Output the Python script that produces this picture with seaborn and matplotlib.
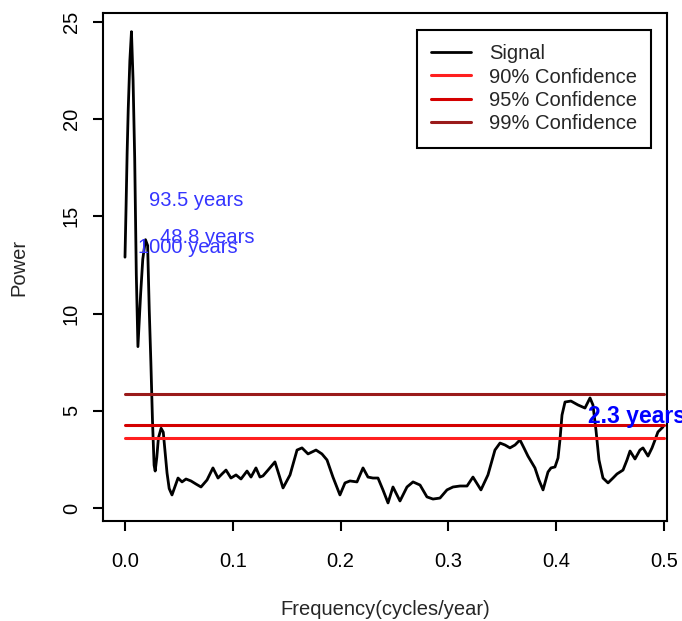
import matplotlib
matplotlib.use("Agg")
import numpy as np
import pandas as pd
import matplotlib.pyplot as plt
import seaborn as sns

# ── Spectrum values ────────────────────────────────────────────────────────
freq = [0.000, 0.001, 0.002, 0.003, 0.0045, 0.006, 0.0075, 0.009, 0.0105, 0.012,
        0.0145, 0.0165, 0.019, 0.021, 0.0225, 0.024, 0.0255, 0.027, 0.028, 0.0295,
        0.031, 0.0335, 0.0355, 0.037, 0.039, 0.041, 0.0436, 0.0492, 0.0529, 0.0566,
        0.0612, 0.0659, 0.0705, 0.0761, 0.0816, 0.0863, 0.0900, 0.0937, 0.0983, 0.1030,
        0.1076, 0.1132, 0.1169, 0.1215, 0.1252, 0.1280, 0.1327, 0.1391, 0.1429, 0.1466,
        0.1531, 0.1596, 0.1642, 0.1698, 0.1772, 0.1827, 0.1874, 0.1929, 0.1994, 0.2041,
        0.2087, 0.2152, 0.2208, 0.2254, 0.2300, 0.2347, 0.2393, 0.2440, 0.2486, 0.2551,
        0.2616, 0.2672, 0.2737, 0.2801, 0.2857, 0.2922, 0.2987, 0.3043, 0.3108, 0.3173,
        0.3228, 0.3302, 0.3367, 0.3432, 0.3479, 0.3525, 0.3571, 0.3618, 0.3664, 0.3701,
        0.3738, 0.3803, 0.3840, 0.3878, 0.3924, 0.3952, 0.3989, 0.4017, 0.4035, 0.4054,
        0.4082, 0.4137, 0.4202, 0.4267, 0.4314, 0.4341, 0.4369, 0.4397, 0.4434, 0.4481,
        0.4527, 0.4564, 0.4620, 0.4657, 0.4685, 0.4731, 0.4777, 0.4805, 0.4852, 0.4889,
        0.4917, 0.4944, 0.4991]
power = [12.9, 15.5, 18.3, 20.5, 23.0, 24.5, 22.0, 18.0, 12.0, 8.3,
         11.0, 12.8, 13.8, 13.5, 10.2, 7.5, 4.5, 2.2, 1.9, 2.6,
         3.6, 4.1, 3.9, 3.0, 1.8, 1.0, 0.67, 1.54, 1.34, 1.49,
         1.39, 1.23, 1.08, 1.44, 2.06, 1.54, 1.75, 1.95, 1.54, 1.70,
         1.49, 1.90, 1.59, 2.06, 1.59, 1.65, 1.95, 2.37, 1.70, 1.03,
         1.70, 2.98, 3.09, 2.78, 2.98, 2.78, 2.47, 1.59, 0.67, 1.29,
         1.39, 1.34, 2.06, 1.59, 1.54, 1.54, 0.93, 0.26, 1.08, 0.36,
         1.08, 1.34, 1.18, 0.57, 0.46, 0.51, 0.93, 1.08, 1.13, 1.13,
         1.59, 0.93, 1.70, 2.98, 3.34, 3.24, 3.09, 3.24, 3.50, 3.09,
         2.67, 2.06, 1.44, 0.93, 1.85, 2.06, 2.11, 2.57, 3.50, 4.78,
         5.45, 5.50, 5.30, 5.14, 5.66, 5.30, 4.01, 2.47, 1.54, 1.29,
         1.54, 1.75, 1.95, 2.47, 2.93, 2.52, 2.98, 3.09, 2.67, 3.09,
         3.50, 3.91, 4.17]

conf_labels = ["90% Confidence", "95% Confidence", "99% Confidence"]
conf_levels = [3.58, 4.27, 5.85]
conf_colors = ["#ff1f1f", "#d40000", "#9a1a1a"]

peak_labels = ["93.5 years", "48.8 years", "1000 years"]
peak_x = [0.0659, 0.0765, 0.0585]
peak_y = [15.8, 13.9, 13.4]
short_label = "2.3 years"
short_x, short_y = 0.475, 4.73

# ── Style ───────────────────────────────────────────────────────────────────
sns.set_style("ticks")
plt.rcParams['font.family'] = ['Liberation Sans', 'DejaVu Sans']
FS = 14.5

fig = plt.figure(figsize=(6.82, 6.21), dpi=100)
ax = fig.add_axes([103 / 682, 100 / 621, 564 / 682, 508 / 621])

signal = pd.DataFrame({"freq": freq, "power": power})
sns.lineplot(data=signal, x="freq", y="power", color="black", linewidth=2.0,
             estimator=None, sort=False, label="Signal", ax=ax)

for lab, lev, col in zip(conf_labels, conf_levels, conf_colors):
    band = pd.DataFrame({"freq": [0.0, 0.5], "power": [lev, lev]})
    sns.lineplot(data=band, x="freq", y="power", color=col, linewidth=2.2,
                 estimator=None, label=lab, ax=ax)

for lab, px, py in zip(peak_labels, peak_x, peak_y):
    ax.text(px, py, lab, color="#3535ff", ha="center", va="center", fontsize=FS)
ax.text(short_x, short_y, short_label, color="blue", ha="center", va="center",
        fontsize=16.5, fontweight="bold", clip_on=False)

ax.set_xlim(-0.0204, 0.5028)
ax.set_ylim(-0.67, 25.46)
ax.set_xticks([0.0, 0.1, 0.2, 0.3, 0.4, 0.5])
ax.set_xticklabels(["0.0", "0.1", "0.2", "0.3", "0.4", "0.5"])
ax.set_yticks([0, 5, 10, 15, 20, 25])
ax.set_yticklabels(["0", "5", "10", "15", "20", "25"], rotation=90, va="center")
ax.tick_params(axis="both", direction="out", length=7, width=1.5, colors="black",
               labelsize=FS)
ax.tick_params(axis="x", pad=15)
ax.tick_params(axis="y", pad=9)
for sp in ax.spines.values():
    sp.set_visible(True)
    sp.set_linewidth(1.5)
    sp.set_color("black")

ax.set_xlabel("Frequency(cycles/year)", fontsize=FS, labelpad=21)
ax.set_ylabel("Power", fontsize=FS, labelpad=24)

leg = ax.legend(loc="upper right", bbox_to_anchor=(0.9716, 0.9665), frameon=True,
                fancybox=False, framealpha=1, edgecolor="black", fontsize=FS,
                handlelength=1.95, handletextpad=0.9, labelspacing=0.22,
                borderpad=0.7, borderaxespad=0)
leg.get_frame().set_linewidth(1.5)

fig.savefig("out.png", dpi=100)
